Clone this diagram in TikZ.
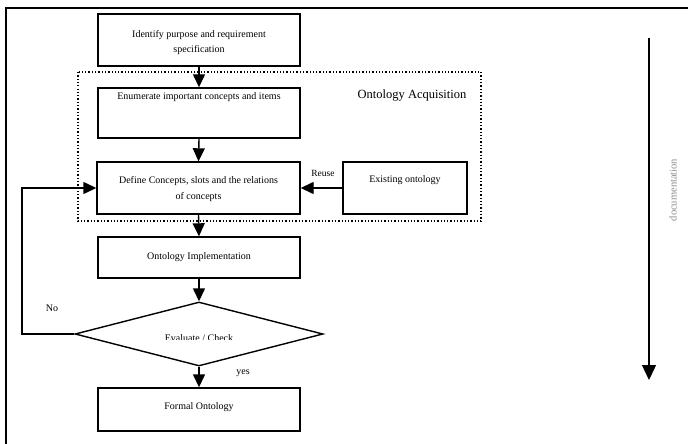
\documentclass[tikz,border=0pt]{standalone}
\usepackage{fontspec}
\setmainfont{Liberation Serif}
\usetikzlibrary{arrows.meta,shapes.geometric}
\tikzset{
  box/.style={draw, line width=1.4pt, inner sep=0pt},
  txt/.style={font=\fontsize{10}{15.5}\selectfont, align=center, inner sep=0pt},
  arr/.style={line width=1.4pt, -{Triangle[length=13pt,width=12pt]}},
}
\begin{document}
\begin{tikzpicture}[x=1pt,y=-1pt]
\useasboundingbox (0,0) rectangle (688,444);
% frame (top and left only)
\coordinate (ftr) at (688,8);
\coordinate (ftl) at (6,8);
\coordinate (fbl) at (6,444);
\draw[line width=1.4pt] (ftr) -- (ftl) -- (fbl);
% dotted acquisition area
\draw[dotted, line width=1.3pt] (78,72) rectangle (481,221);
\node[font=\fontsize{12.5}{14}\selectfont, inner sep=0pt] (acq) at (412,96) {Ontology Acquisition};
% boxes
\node[box, minimum width=202pt, minimum height=52pt] (b1) at (199,40) {};
\node[txt] (t1) at (199,42.5) {Identify purpose and requirement\\specification};
\node[box, minimum width=202pt, minimum height=50pt] (b2) at (199,113) {};
\node[txt] (t2) at (199,97) {Enumerate important concepts and items};
\node[box, minimum width=203pt, minimum height=52pt] (b3) at (198.5,188) {};
\node[txt] (t3) at (198.5,189) {Define Concepts, slots and the relations\\of concepts};
\node[box, minimum width=124pt, minimum height=52pt] (ex) at (405,188) {};
\node[txt] (tex) at (405,180.5) {Existing ontology};
\node[box, minimum width=202pt, minimum height=41pt] (b4) at (199,257.5) {};
\node[txt] (t4) at (199,257) {Ontology Implementation};
\node[box, minimum width=202pt, minimum height=43pt] (b5) at (199,409.5) {};
\node[txt] (t5) at (199,407.5) {Formal Ontology};
% diamond
\node[draw, diamond, line width=1.4pt, inner sep=0pt, minimum width=248pt, minimum height=64pt] (dia) at (199,334) {};
\begin{scope}
\clip (120,320) rectangle (280,339.6);
\node[txt, anchor=base] (tdia) at (199,341.2) {Evaluate / Check};
\end{scope}
% connectors
\draw[arr] (b1.south) -- (b2.north);
\draw[arr] (b2.south) -- (b3.north);
\draw[arr] (ex.west) -- (b3.east);
\draw[arr] (b3.south) -- (b4.north);
\draw[arr] (b4.south) -- (dia.north);
\draw[arr] (dia.south) -- (b5.north);
\coordinate (fb) at (22,334);
\draw[arr] (dia.west) -- (fb) |- (b3.west);
% labels
\node[txt, font=\fontsize{9.5}{11}\selectfont] (reuse) at (323,173) {Reuse};
\node[txt] (no) at (52,308) {No};
\node[txt] (yes) at (243,373) {yes};
% documentation arrow
\coordinate (dtop) at (649,38);
\coordinate (dbot) at (649,380);
\draw[line width=1.4pt, -{Triangle[length=15pt,width=14pt]}] (dtop) -- (dbot);
\node[rotate=90, font=\fontsize{10.5}{12}\selectfont, text=black!45, inner sep=0pt] (doc) at (673,190) {documentation};
\end{tikzpicture}
\end{document}
